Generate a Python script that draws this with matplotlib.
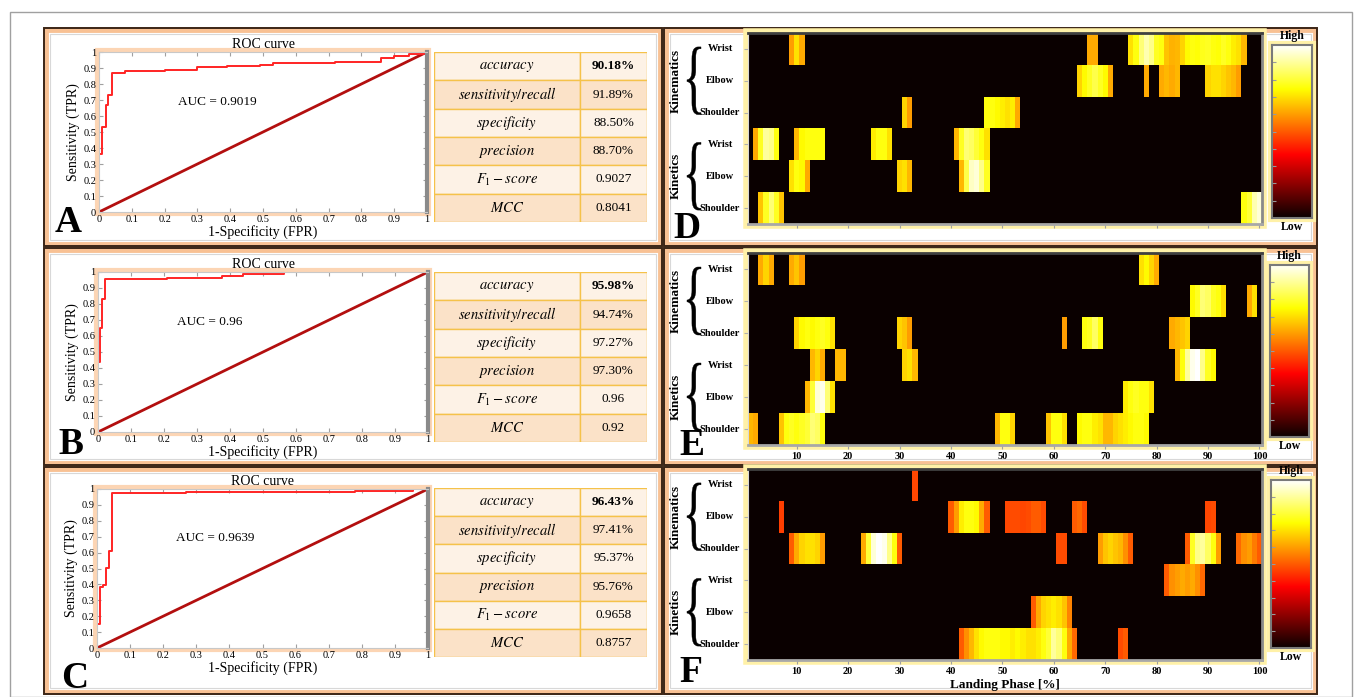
import numpy as np
import matplotlib.pyplot as plt
from matplotlib.patches import Rectangle, PathPatch
from matplotlib.path import Path
from matplotlib.textpath import TextPath
from matplotlib.font_manager import FontProperties

plt.rcParams['font.family'] = 'Liberation Serif'
plt.rcParams['mathtext.fontset'] = 'stix'

W, H = 1357, 697

# ROC curves, step corners (FPR, TPR)
fpr_a = [0, 0, 0.01, 0.02, 0.028, 0.04, 0.08, 0.2, 0.3, 0.39, 0.49, 0.53, 0.72, 0.86, 0.9, 0.945, 0.99, 1.0]
tpr_a = [0, 0.36, 0.53, 0.67, 0.73, 0.87, 0.88, 0.89, 0.905, 0.915, 0.92, 0.93, 0.94, 0.96, 0.975, 0.99, 1.0, 1.0]
fpr_b = [0, 0, 0.005, 0.012, 0.021, 0.21, 0.377, 0.44, 0.565, 1.0]
tpr_b = [0, 0.44, 0.65, 0.83, 0.955, 0.962, 0.975, 0.985, 1.0, 1.0]
fpr_c = [0, 0, 0.008, 0.018, 0.028, 0.035, 0.046, 0.27, 0.78, 0.955, 1.0]
tpr_c = [0, 0.15, 0.385, 0.395, 0.505, 0.61, 0.975, 0.98, 0.99, 1.0, 1.0]
auc_a, auc_b, auc_c = '0.9019', '0.96', '0.9639'

metric_names = [r'$accuracy$', r'$sensitivity/recall$', r'$specificity$',
                r'$precision$', r'$F_1 - score$', r'$MCC$']
metrics_a = ['90.18%', '91.89%', '88.50%', '88.70%', '0.9027', '0.8041']
metrics_b = ['95.98%', '94.74%', '97.27%', '97.30%', '0.96', '0.92']
metrics_c = ['96.43%', '97.41%', '95.37%', '95.76%', '0.9658', '0.8757']

joint_labels = ['Wrist', 'Elbow', 'Shoulder', 'Wrist', 'Elbow', 'Shoulder']
phase_ticks = [10, 20, 30, 40, 50, 60, 70, 80, 90, 100]

# relevance runs: (row, first landing-phase column, values)
runs_d = [
    (0, 9, [0.6, 0.7, 0.62]),
    (0, 67, [0.62, 0.62]),
    (0, 75, [0.7, 0.76, 0.86, 0.92, 0.88, 0.78, 0.76, 0.66, 0.63, 0.64, 0.68, 0.74,
             0.76, 0.75, 0.77, 0.78, 0.76, 0.75, 0.78, 0.76, 0.72, 0.7, 0.64]),
    (1, 65, [0.68, 0.74, 0.78, 0.82, 0.78, 0.74, 0.62]),
    (1, 78, [0.62]),
    (1, 81, [0.62, 0.64, 0.62, 0.64]),
    (1, 90, [0.68, 0.7, 0.7, 0.68, 0.66, 0.64, 0.6]),
    (2, 31, [0.68, 0.6]),
    (2, 47, [0.76, 0.76, 0.74, 0.72, 0.7, 0.72, 0.62]),
    (3, 2, [0.62, 0.78, 0.9, 0.88, 0.76]),
    (3, 10, [0.64, 0.74, 0.76, 0.76, 0.76, 0.75]),
    (3, 25, [0.72, 0.76, 0.76, 0.7]),
    (3, 41, [0.64, 0.78, 0.86, 0.84, 0.8, 0.76, 0.7]),
    (4, 9, [0.7, 0.76, 0.74, 0.62]),
    (4, 30, [0.68, 0.7, 0.64]),
    (4, 42, [0.64, 0.82, 0.94, 0.96, 0.88, 0.78]),
    (5, 3, [0.66, 0.78, 0.86, 0.78, 0.66]),
    (5, 97, [0.76, 0.8, 0.92, 0.96]),
]
runs_e = [
    (0, 3, [0.62, 0.68, 0.62]),
    (0, 9, [0.62, 0.66, 0.6]),
    (0, 77, [0.7, 0.74, 0.68, 0.62]),
    (1, 87, [0.74, 0.78, 0.86, 0.84, 0.78, 0.76, 0.7]),
    (1, 98, [0.62, 0.7]),
    (2, 10, [0.68, 0.74, 0.76, 0.74, 0.76, 0.78, 0.76, 0.7]),
    (2, 30, [0.68, 0.66, 0.6]),
    (2, 62, [0.6]),
    (2, 66, [0.76, 0.78, 0.84, 0.76]),
    (2, 83, [0.62, 0.64, 0.66, 0.68]),
    (3, 13, [0.64, 0.68, 0.62]),
    (3, 18, [0.64, 0.64]),
    (3, 31, [0.68, 0.7, 0.64]),
    (3, 84, [0.64, 0.76, 0.9, 0.98, 1.0, 0.88, 0.78, 0.74]),
    (4, 12, [0.64, 0.8, 0.96, 0.98, 0.86, 0.7]),
    (4, 74, [0.72, 0.76, 0.78, 0.76, 0.76, 0.7]),
    (5, 1, [0.64, 0.62]),
    (5, 7, [0.66, 0.76, 0.78, 0.76, 0.78, 0.8, 0.86, 0.84, 0.76]),
    (5, 49, [0.64, 0.76, 0.76, 0.68]),
    (5, 59, [0.66, 0.76, 0.76, 0.7]),
    (5, 65, [0.74, 0.76, 0.76, 0.72, 0.7, 0.64, 0.64, 0.68, 0.7, 0.72, 0.74, 0.76, 0.76, 0.74]),
]
runs_f = [
    (0, 33, [0.47]),
    (1, 7, [0.46]),
    (1, 40, [0.5, 0.6, 0.72, 0.76, 0.76, 0.74, 0.62, 0.5]),
    (1, 51, [0.47, 0.48, 0.48, 0.47, 0.48, 0.5, 0.5, 0.48]),
    (1, 64, [0.5, 0.52, 0.48]),
    (1, 90, [0.47, 0.48]),
    (2, 9, [0.5, 0.62, 0.68, 0.7, 0.7, 0.68, 0.6]),
    (2, 23, [0.62, 0.8, 0.96, 1.0, 0.98, 0.88, 0.76, 0.5]),
    (2, 61, [0.48, 0.48]),
    (2, 69, [0.6, 0.66, 0.68, 0.66, 0.64, 0.58, 0.5]),
    (2, 86, [0.5, 0.78, 0.88, 0.9, 0.84, 0.76, 0.6]),
    (2, 96, [0.52, 0.58, 0.6, 0.55, 0.5]),
    (3, 82, [0.5, 0.58, 0.6, 0.62, 0.6, 0.62, 0.58, 0.52]),
    (4, 56, [0.5, 0.62, 0.68, 0.7, 0.72, 0.7, 0.66, 0.56]),
    (5, 42, [0.5, 0.58, 0.64, 0.7, 0.74, 0.76, 0.76, 0.76, 0.74, 0.74, 0.72, 0.74,
             0.72, 0.7, 0.7, 0.72, 0.76, 0.8, 0.9, 0.86, 0.76, 0.62, 0.52]),
    (5, 73, [0.48, 0.5]),
]

fig = plt.figure(figsize=(W / 100, H / 100), dpi=100)
fig.patch.set_facecolor('white')


def fx(x):
    return x / W


def fy(y):
    return 1 - y / H


def axes_px(x0, y0, x1, y1):
    return fig.add_axes([fx(x0), fy(y1), (x1 - x0) / W, (y1 - y0) / H])


def rect_px(x0, y0, x1, y1, **kw):
    r = Rectangle((fx(x0), fy(y1)), (x1 - x0) / W, (y1 - y0) / H,
                  transform=fig.transFigure, **kw)
    fig.add_artist(r)
    return r


brace_glyph = TextPath((0, 0), '{', size=1, prop=FontProperties(family='Liberation Serif'))


def brace(x0, y0, x1, y1):
    ext = brace_glyph.get_extents()
    v = brace_glyph.vertices.copy()
    v[:, 0] = (v[:, 0] - ext.x0) / ext.width
    v[:, 1] = (v[:, 1] - ext.y0) / ext.height
    v[:, 0] = fx(x0 + v[:, 0] * (x1 - x0))
    v[:, 1] = fy(y1 - v[:, 1] * (y1 - y0))
    fig.add_artist(PathPatch(Path(v, brace_glyph.codes), transform=fig.transFigure,
                             fc='black', lw=0.3, ec='black'))


def build_map(runs):
    m = np.zeros((6, 100))
    for row, start, vals in runs:
        m[row, start - 1:start - 1 + len(vals)] = vals
    return m


# outer frame and panel boxes
rect_px(10, 12, 1352, 697, fill=False, ec='#a0a0a0', lw=1.0, zorder=-6)
for y0, y1 in [(28, 246), (248, 465), (467, 694)]:
    for x0, x1 in [(44, 662), (664, 1317)]:
        rect_px(x0 + 2, y0 + 2, x1 - 2, y1 - 2, fill=False, ec='#f8c194', lw=3.5, zorder=-5)
        rect_px(x0 + 6, y0 + 6, x1 - 6, y1 - 6, fill=False, ec='#d8d8d8', lw=0.8, zorder=-5)
        rect_px(x0, y0, x1, y1, fill=False, ec='#3b2516', lw=1.4, zorder=-4)


def roc_panel(box, fpr, tpr, auc, letter, letter_xy):
    x0, y0, x1, y1 = box
    rect_px(x0 - 2, y0 - 2, x1 + 2, y1 + 2, fill=False, ec='#fcd5b4', lw=3, zorder=-2)
    ax = axes_px(*box)
    ax.plot([0, 1], [0, 1], color='#b30f0f', lw=2)
    ax.step(fpr, tpr, where='post', color='#ff2424', lw=1.4)
    ax.set_xlim(0, 1)
    ax.set_ylim(0, 1)
    ticks = np.round(np.arange(0, 1.01, 0.1), 1)
    labels = ['0'] + [f'{t:.1f}' for t in ticks[1:-1]] + ['1']
    ax.set_xticks(ticks)
    ax.set_xticklabels(labels)
    ax.set_yticks(ticks)
    ax.set_yticklabels(labels)
    ax.tick_params(direction='in', length=3, color='#a0a0a0', labelsize=7.5, pad=2,
                   top=True, right=True)
    for side in ['left', 'top', 'bottom']:
        ax.spines[side].set_color('#c8c8c8')
    ax.spines['right'].set_color('#8a8a8a')
    ax.spines['right'].set_linewidth(3)
    ax.set_title('ROC curve', fontsize=10, pad=3)
    ax.set_xlabel('1-Specificity (FPR)', fontsize=10, labelpad=1)
    ax.set_ylabel('Sensitivity (TPR)', fontsize=10, labelpad=2)
    ax.text(0.24, 0.69, 'AUC = ' + auc, fontsize=9.5, va='center')
    fig.text(fx(letter_xy[0]), fy(letter_xy[1]), letter, fontsize=27,
             fontweight='bold', va='baseline', ha='left')


def metric_table(box, values):
    ax = axes_px(*box)
    ax.set_xlim(0, 1)
    ax.set_ylim(6, 0)
    ax.axis('off')
    split = 0.685
    for i, (name, val) in enumerate(zip(metric_names, values)):
        fc = '#fdf2e6' if i % 2 == 0 else '#fbe2c8'
        ax.add_patch(Rectangle((0, i), split, 1, fc=fc, ec='#f5c24a', lw=1))
        ax.add_patch(Rectangle((split, i), 1 - split, 1, fc=fc, ec='#f5c24a', lw=1))
        ax.text(split / 2, i + 0.5, name, ha='center', va='center', fontsize=10.5)
        ax.text((1 + split) / 2, i + 0.5, val, ha='center', va='center', fontsize=9.5,
                fontweight='bold' if i == 0 else 'normal')


def heat_panel(box, cbar_box, runs, letter, letter_xy, show_labels, show_xlabel):
    x0, y0, x1, y1 = box
    rect_px(x0 - 2, y0 - 2, x1 + 2, y1 + 2, fill=False, ec='#fff1a8', lw=4, zorder=-2)
    ax = axes_px(*box)
    ax.imshow(build_map(runs), cmap='hot', vmin=0, vmax=1, aspect='auto',
              interpolation='nearest', extent=(0.5, 100.5, 5.5, -0.5))
    ax.set_xticks(phase_ticks)
    ax.set_yticks(range(6))
    ax.set_yticklabels([])
    ax.tick_params(axis='y', length=3, color='#b0b0b0')
    ax.tick_params(axis='x', length=3, color='#a0a0a0', labelsize=7.5, pad=2,
                   labelbottom=show_labels)
    for lab in ax.get_xticklabels():
        lab.set_fontweight('bold')
    ax.spines['top'].set_color('#404040')
    ax.spines['top'].set_linewidth(2)
    ax.spines['left'].set_color('#d8d8d8')
    ax.spines['right'].set_color('#8a8a8a')
    ax.spines['right'].set_linewidth(2)
    ax.spines['bottom'].set_color('#a8a8a8')
    ax.spines['bottom'].set_linewidth(2)
    if show_xlabel:
        fig.text(fx((x0 + x1) / 2), fy(685), 'Landing Phase [%]', ha='center',
                 va='center', fontsize=9.5, fontweight='bold')

    row_h = (y1 - y0) / 6
    centers = [y0 + (i + 0.5) * row_h for i in range(6)]
    for yc, name in zip(centers, joint_labels):
        fig.text(fx(720), fy(yc), name, ha='center', va='center', fontsize=7.5,
                 fontweight='bold')
    fig.text(fx(676), fy(centers[1]), 'Kinematics', rotation=90, ha='center',
             va='center', fontsize=9.5, fontweight='bold')
    fig.text(fx(676), fy(centers[4]), 'Kinetics', rotation=90, ha='center',
             va='center', fontsize=9.5, fontweight='bold')
    brace(687, centers[0] - 2, 701, centers[2] + 2)
    brace(687, centers[3] - 2, 701, centers[5] + 2)

    cx0, cy0, cx1, cy1 = cbar_box
    rect_px(cx0 - 2, cy0 - 2, cx1 + 2, cy1 + 2, fill=False, ec='#fff1a8', lw=3, zorder=-2)
    cax = axes_px(*cbar_box)
    cax.imshow(np.linspace(1, 0, 256)[:, None], cmap='hot', vmin=0, vmax=1,
               aspect='auto', extent=(0, 1, 0, 1))
    cax.set_xticks([])
    cax.set_yticks(np.linspace(0.1, 0.9, 9))
    cax.set_yticklabels([])
    cax.tick_params(axis='y', direction='in', length=3, color='#9a9a9a')
    for side in cax.spines.values():
        side.set_color('#7a7a7a')
        side.set_linewidth(1.5)
    fig.text(fx((cx0 + cx1) / 2), fy(cy0 - 9), 'High', ha='center', va='center',
             fontsize=8.5, fontweight='bold')
    fig.text(fx((cx0 + cx1) / 2), fy(cy1 + 9), 'Low', ha='center', va='center',
             fontsize=8.5, fontweight='bold')
    fig.text(fx(letter_xy[0]), fy(letter_xy[1]), letter, fontsize=27,
             fontweight='bold', va='baseline', ha='left')


roc_panel((99, 52, 427, 212), fpr_a, tpr_a, auc_a, 'A', (55, 232))
roc_panel((98, 272, 428, 432), fpr_b, tpr_b, auc_b, 'B', (58, 454))
roc_panel((97, 489, 428, 648), fpr_c, tpr_c, auc_c, 'C', (61, 688))

metric_table((434, 52, 647, 222), metrics_a)
metric_table((434, 272, 647, 442), metrics_b)
metric_table((434, 488, 647, 657), metrics_c)

heat_panel((748, 33, 1262, 224), (1272, 45, 1312, 218), runs_d, 'D', (673, 238), False, False)
heat_panel((748, 253, 1262, 445), (1270, 265, 1309, 437), runs_e, 'E', (679, 455), True, False)
heat_panel((748, 469, 1262, 660), (1271, 480, 1311, 648), runs_f, 'F', (679, 682), True, True)

fig.savefig('out.png', dpi=100)
